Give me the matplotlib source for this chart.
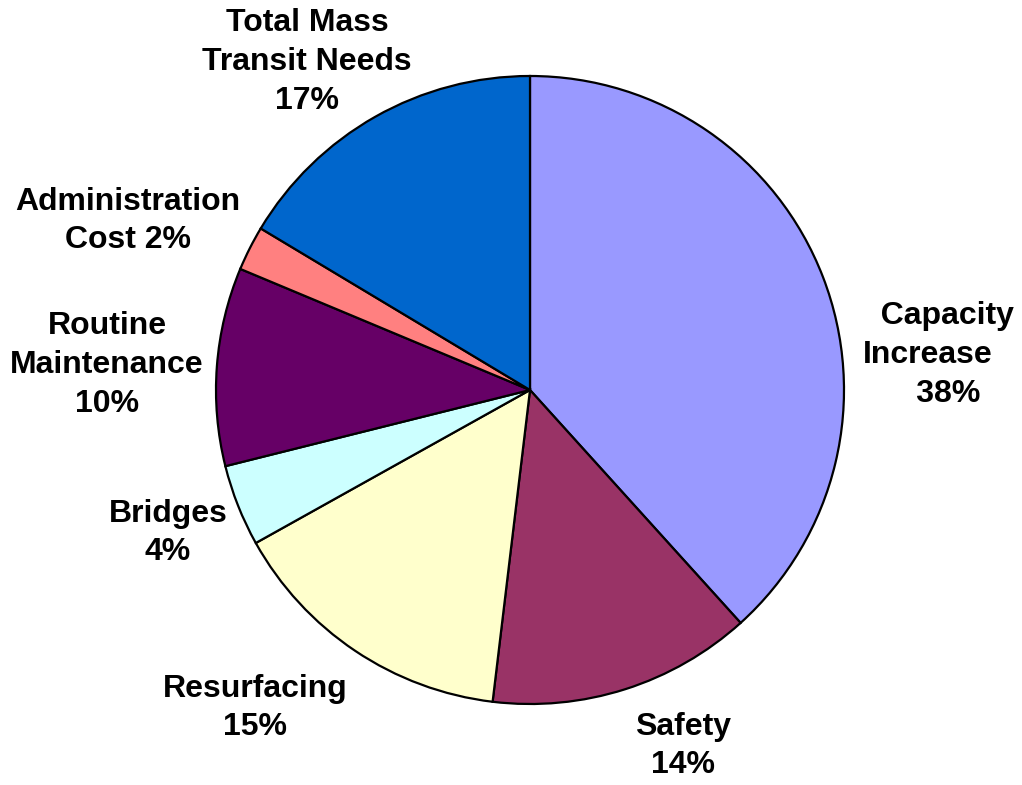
import matplotlib.pyplot as plt

categories = ['Capacity\nIncrease', 'Safety', 'Resurfacing', 'Bridges',
              'Routine\nMaintenance', 'Administration\nCost', 'Total Mass\nTransit Needs']
shares = [38.3, 13.6, 15.0, 4.2, 10.2, 2.3, 16.4]
label_texts = ['  Capacity\nIncrease\n      38%', 'Safety\n14%', 'Resurfacing\n15%', 'Bridges\n4%',
               'Routine\nMaintenance\n10%', 'Administration\nCost 2%', 'Total Mass\nTransit Needs\n17%']
colors = ['#9999FF', '#993366', '#FFFFCC', '#CCFFFF', '#660066', '#FF8080', '#0066CC']

# label anchors in pixel coords (x from left, y from top), with alignment
label_pos = [(863, 355), (683, 746), (255, 708), (168, 533), (107, 365), (128, 221), (307, 62)]
label_ha = ['left', 'center', 'center', 'center', 'center', 'center', 'center']

W, H = 1022, 785
fig = plt.figure(figsize=(W / 100, H / 100), dpi=100)
ax = fig.add_axes([0, 0, 1, 1])
ax.set_xlim(0, W)
ax.set_ylim(0, H)
ax.set_aspect('equal')
ax.axis('off')

ax.pie(shares, colors=colors, startangle=90, counterclock=False,
       center=(530, H - 390), radius=314,
       wedgeprops=dict(edgecolor='black', linewidth=1.6))

for txt, (x, y), ha in zip(label_texts, label_pos, label_ha):
    ax.text(x, H - y, txt, ha=ha, va='center', multialignment=ha, fontsize=23,
            fontweight='bold', family='Liberation Sans', linespacing=1.38)

ax.set_xlim(0, W)
ax.set_ylim(0, H)
fig.savefig('out.png', dpi=100)
